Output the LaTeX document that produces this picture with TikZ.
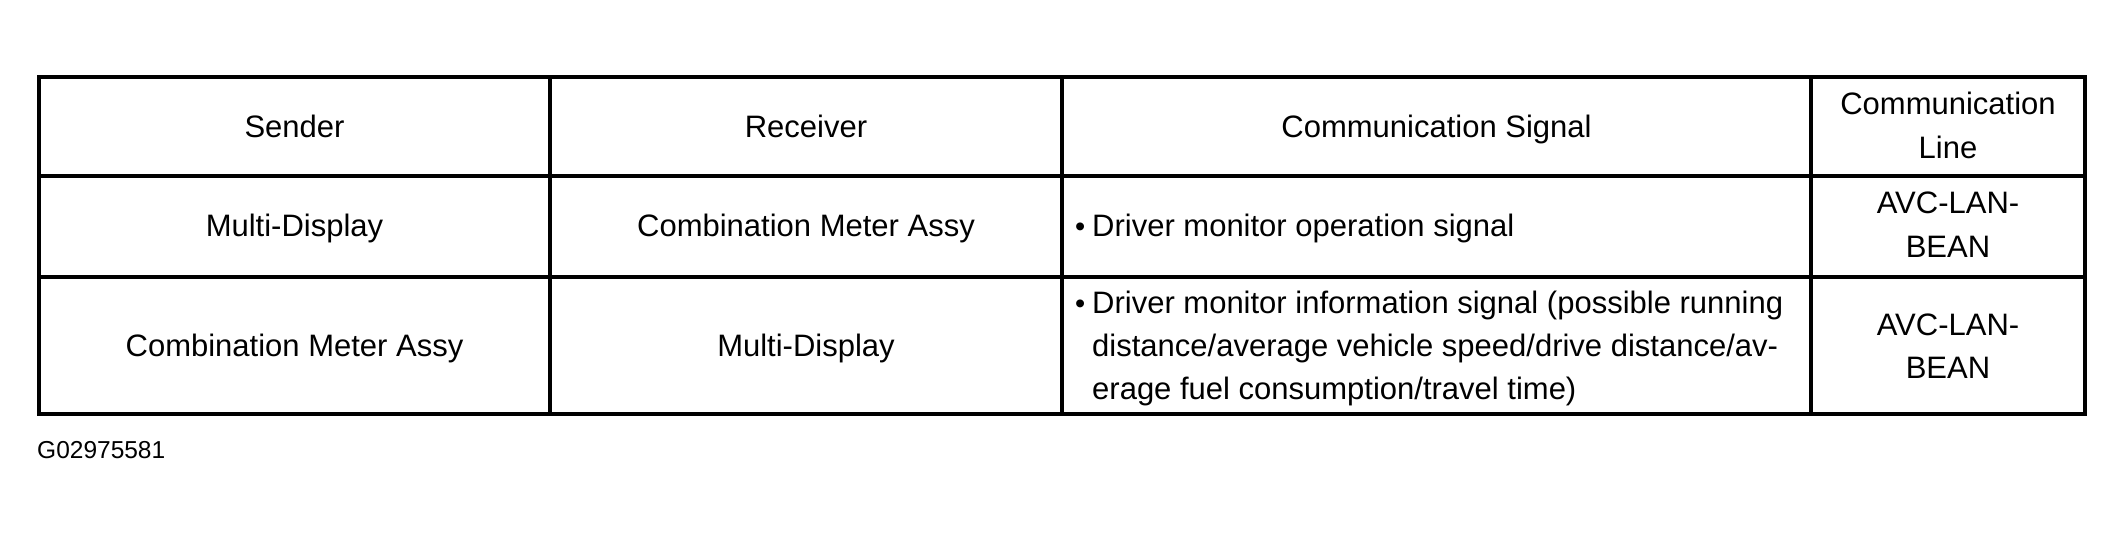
\documentclass[tikz,border=0pt]{standalone}
\usepackage{fontspec}
\setmainfont{Liberation Sans}
\begin{document}
\begin{tikzpicture}[x=1pt,y=-1pt,
  txt/.style={inner sep=0pt, anchor=base, font=\fontsize{31}{37}\selectfont},
  ltxt/.style={txt, anchor=base west},
  bul/.style={inner sep=0pt, anchor=base west, font=\fontsize{29}{34}\selectfont},
  outerline/.style={line width=4.2pt, line cap=rect},
  innerline/.style={line width=3.2pt},
  idlabel/.style={inner sep=0pt, anchor=base west, font=\fontsize{24.5}{29}\selectfont}]
\useasboundingbox (0,0) rectangle (2124,536);
% grid coordinates
\coordinate (tl) at (39,77);
\coordinate (br) at (2085,414);
% inner lines
\draw[innerline] (39,176) -- (2085,176);
\draw[innerline] (39,277) -- (2085,277);
\draw[innerline] (550,77) -- (550,414);
\draw[innerline] (1062,77) -- (1062,414);
\draw[innerline] (1811,77) -- (1811,414);
\draw[outerline] (tl) rectangle (br);
% header
\node[txt] (hsend) at (294.5,137.3) {Sender};
\node[txt] (hrecv) at (806,137.3) {Receiver};
\node[txt] (hsig) at (1436.5,137.3) {Communication Signal};
\node[txt] (hline1) at (1948,114) {Communication};
\node[txt] (hline2) at (1948,158) {Line};
% row 1
\node[txt] (r1send) at (294.5,236) {Multi-Display};
\node[txt] (r1recv) at (806,236) {Combination Meter Assy};
\node[bul] (r1bul) at (1075,236) {\textbullet};
\node[ltxt] (r1sig) at (1092,236) {Driver monitor operation signal};
\node[txt] (r1l1) at (1948,213) {AVC-LAN-};
\node[txt] (r1l2) at (1948,257) {BEAN};
% row 2
\node[txt] (r2send) at (294.5,356.5) {Combination Meter Assy};
\node[txt] (r2recv) at (806,356.5) {Multi-Display};
\node[bul] (r2bul) at (1075,313) {\textbullet};
\node[ltxt] (r2sig1) at (1092,313) {Driver monitor information signal (possible running};
\node[ltxt] (r2sig2) at (1092,356) {distance/average vehicle speed/drive distance/av-};
\node[ltxt] (r2sig3) at (1092,399) {erage fuel consumption/travel time)};
\node[txt] (r2l1) at (1948,335) {AVC-LAN-};
\node[txt] (r2l2) at (1948,378) {BEAN};
% figure id
\node[idlabel] (figid) at (37,458) {G02975581};
\end{tikzpicture}
\end{document}
